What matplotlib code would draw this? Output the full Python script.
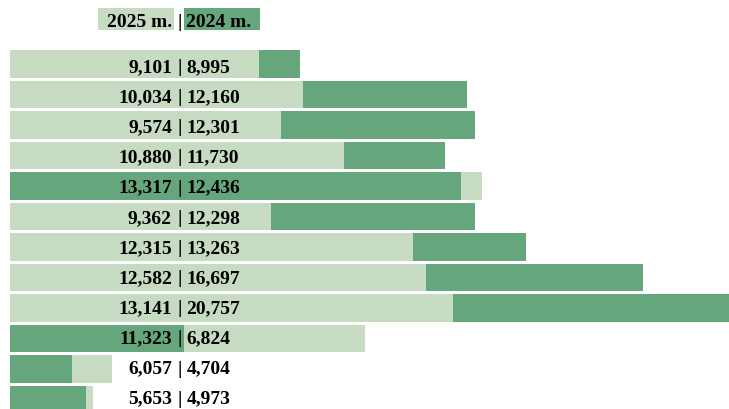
import matplotlib
matplotlib.use('Agg')
import matplotlib.pyplot as plt
from matplotlib.patches import Rectangle

# ---- data ----
series_names = ['2025 m.', '2024 m.']
values_2025 = [9101, 10034, 9574, 10880, 13317, 9362, 12315, 12582, 13141, 11323, 6057, 5653]
values_2024 = [8995, 12160, 12301, 11730, 12436, 12298, 13263, 16697, 20757, 6824, 4704, 4973]
# bar lengths of the 2024 series as drawn in the picture (row 8 bar is shorter than its label)
bars_2024 = [8995, 12160, 12301, 11730, 12436, 12298, 13263, 15470, 20757, 6824, 4704, 4973]
front_series = ['2025'] * 9 + ['2024'] * 3   # which bar sits on top in each row
swapped_rows = [4]                            # rows where the colours are exchanged

# ---- style ----
LIGHT = '#c7dbc3'
DARK = '#66a67c'
W, H = 729, 409
FONT = dict(family=['Liberation Serif', 'DejaVu Serif'], weight='bold', size=14, color='black')

fig = plt.figure(figsize=(W / 100, H / 100), dpi=100)
ax = fig.add_axes([10 / W, 0, 719 / W, 1])
ax2 = ax.twiny()
ax.set_xlim(3923, 18897)
ax2.set_xlim(3535, 17091)
ax.set_ylim(11.3164, -2.0934)
ax2.set_ylim(11.3164, -2.0934)
ax.set_axis_off()
ax2.set_axis_off()

bar_h = 0.908
for i in range(len(values_2025)):
    c25, c24 = (DARK, LIGHT) if i in swapped_rows else (LIGHT, DARK)
    z25, z24 = (3, 2) if front_series[i] == '2025' else (2, 3)
    ax.barh(i, values_2025[i], height=bar_h, color=c25, zorder=z25, linewidth=0)
    ax.barh(i, bars_2024[i], height=bar_h, color=c24, zorder=z24, linewidth=0,
            transform=ax2.transData)

# labels (their row pitch is slightly tighter than the bars')
for i in range(len(values_2025)):
    y = (H - (72 + 30.15 * i)) / H
    fig.text(172 / W, y, f"{values_2025[i]:,}", ha='right', va='baseline', zorder=5, **FONT)
    fig.text(180 / W, y, "|", ha='center', va='baseline', zorder=5, **FONT)
    fig.text(186.5 / W, y, f"{values_2024[i]:,}", ha='left', va='baseline', zorder=5, **FONT)

# ---- legend ----
fig.patches.append(Rectangle((98 / W, (H - 30) / H), 76 / W, 22 / H, transform=fig.transFigure,
                             facecolor=LIGHT, edgecolor='none'))
fig.patches.append(Rectangle((184 / W, (H - 30) / H), 76 / W, 22 / H, transform=fig.transFigure,
                             facecolor=DARK, edgecolor='none'))
ly = (H - 26.7) / H
fig.text(172.5 / W, ly, series_names[0], ha='right', va='baseline', **FONT)
fig.text(179.5 / W, ly, "|", ha='center', va='baseline', **FONT)
fig.text(186.5 / W, ly, series_names[1], ha='left', va='baseline', **FONT)

fig.savefig('out.png', dpi=100)
